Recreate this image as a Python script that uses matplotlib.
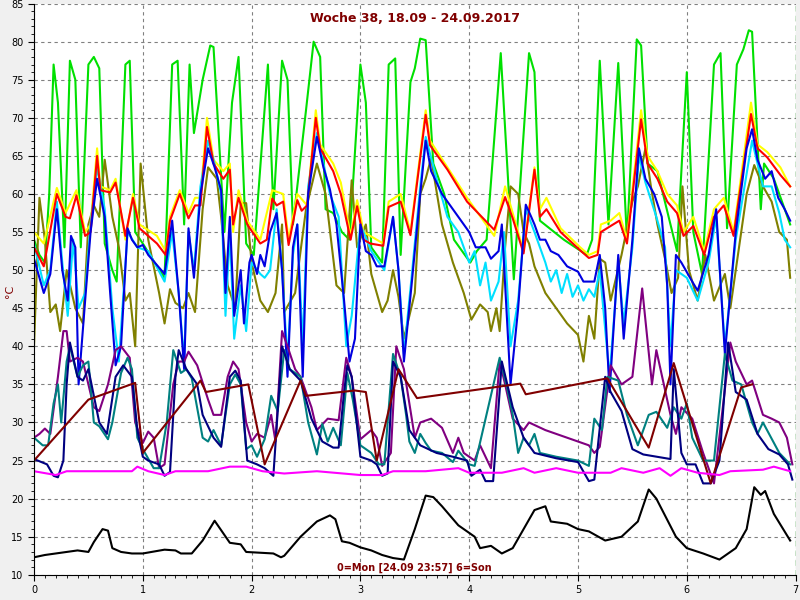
import matplotlib
matplotlib.use("Agg")
import matplotlib.pyplot as plt
from matplotlib.ticker import MultipleLocator

# ---- data (day of week, deg C) ----
green_x = [0, 0.05, 0.1, 0.14, 0.18, 0.22, 0.28, 0.33, 0.38, 0.43, 0.5, 0.55, 0.6, 0.65, 0.72, 0.76,
           0.84, 0.88, 0.93, 1.0, 1.13, 1.2, 1.27, 1.32, 1.38, 1.43, 1.47, 1.55, 1.62, 1.65, 1.75, 1.82,
           1.88, 1.95, 2.02, 2.15, 2.2, 2.28, 2.33, 2.38, 2.5, 2.57, 2.63, 2.68, 2.75, 2.83, 2.9, 3.0,
           3.05, 3.1, 3.2, 3.26, 3.32, 3.37, 3.46, 3.5, 3.55, 3.6, 3.67, 3.77, 3.86, 4.01, 4.07, 4.16,
           4.29, 4.41, 4.55, 4.6, 4.65, 4.87, 5.08, 5.13, 5.2, 5.28, 5.37, 5.45, 5.54, 5.58, 5.64, 5.73,
           5.91, 6.0, 6.06, 6.14, 6.25, 6.31, 6.37, 6.46, 6.52, 6.57, 6.6, 6.68, 6.71, 6.8, 6.95]
green_y = [54, 52, 51, 60, 77, 72, 53, 77.5, 75, 53, 77, 78, 76.5, 53.5, 50, 48.5,
           77, 77.5, 55, 53.5, 50.5, 49, 77, 77.5, 56, 77, 68, 75, 79.5, 79.3, 55, 72,
           78, 53.5, 52, 77, 58, 77.5, 75, 56, 71, 80, 78, 58, 57.5, 55, 54, 77,
           72, 53, 51, 77, 77.8, 52, 74.7, 76.5, 80.4, 80.2, 64, 60, 54, 51, 52.5, 54,
           78.5, 48.8, 78.5, 76, 56.5, 54, 52, 54, 77.5, 56, 77.2, 54, 80.3, 79.5, 64, 63,
           52.5, 76, 55, 49.5, 77, 78.5, 55.5, 77, 79, 81.5, 81.3, 58, 64, 62, 56]

yellow_x = [0, 0.09, 0.21, 0.29, 0.39, 0.47, 0.52, 0.58, 0.61, 0.7, 0.75, 0.84, 0.91, 0.97, 1.13,
            1.21, 1.25, 1.34, 1.42, 1.48, 1.53, 1.59, 1.65, 1.74, 1.8, 1.83, 1.88, 1.96, 2.08, 2.19,
            2.29, 2.34, 2.42, 2.51, 2.59, 2.63, 2.75, 2.82, 2.91, 2.97, 3.03, 3.09, 3.21, 3.26, 3.37,
            3.46, 3.6, 3.64, 3.8, 3.98, 4.23, 4.33, 4.4, 4.5, 4.6, 4.65, 4.71, 4.84, 5.02, 5.1, 5.18,
            5.21, 5.3, 5.38, 5.45, 5.58, 5.64, 5.73, 5.82, 5.91, 5.97, 6.06, 6.16, 6.25, 6.34, 6.43,
            6.59, 6.65, 6.74, 6.86, 6.95]
yellow_y = [55, 53.5, 60.8, 57.5, 60.5, 55, 56, 66, 61, 60.5, 62, 54, 60, 56, 54.5,
            52.5, 57, 60.5, 57.5, 59.5, 59.5, 70, 64.5, 63, 64, 55, 60.5, 56.5, 54, 60.5,
            60, 54, 60, 58.5, 71, 66.5, 64, 61.5, 54.5, 59.2, 55, 54.5, 53.5, 59, 60,
            55, 71, 67, 63.5, 59.5, 54.5, 61, 57.5, 52.5, 63.5, 58, 59.5, 55.5, 53, 52, 52.5,
            56, 56.5, 57.5, 54, 71, 65, 63, 60, 58.5, 55, 57, 52.5, 58, 59.5, 55,
            72, 66.5, 65.5, 63.5, 61]

red_x = [0, 0.09, 0.21, 0.29, 0.33, 0.39, 0.47, 0.52, 0.58, 0.61, 0.7, 0.75, 0.84, 0.91, 0.97,
         1.13, 1.21, 1.25, 1.34, 1.42, 1.48, 1.53, 1.59, 1.65, 1.74, 1.8, 1.83, 1.88, 1.96, 2.08,
         2.14, 2.19, 2.23, 2.29, 2.34, 2.42, 2.46, 2.51, 2.59, 2.63, 2.75, 2.82, 2.91, 2.97, 3.03,
         3.09, 3.21, 3.26, 3.37, 3.46, 3.6, 3.64, 3.8, 3.98, 4.23, 4.33, 4.4, 4.5, 4.6, 4.65, 4.71,
         4.84, 5.02, 5.1, 5.18, 5.21, 5.3, 5.38, 5.45, 5.58, 5.64, 5.73, 5.82, 5.91, 5.97, 6.06,
         6.16, 6.25, 6.34, 6.43, 6.59, 6.65, 6.74, 6.86, 6.95]
red_y = [53, 50.5, 60, 57, 56.8, 59.8, 54.5, 55, 65, 60.5, 60.2, 61.5, 54.5, 59.5, 55.5,
         53.5, 52, 56.5, 60, 56.8, 58.5, 58.5, 68.8, 64, 62, 63.2, 56, 59.5, 56, 53.5,
         54, 59.4, 58.5, 59, 53.3, 59.2, 57.8, 58.5, 70, 66, 63, 60, 54, 58.4, 54,
         53.5, 53.2, 58.3, 59, 54.6, 70.4, 66.4, 63.2, 59, 55.3, 59.6, 56.8, 52.2, 63.2, 57, 58,
         55, 52.6, 51.6, 52, 55, 55.8, 56.5, 53.5, 69.8, 64, 62, 59, 57.5, 54.5, 55.8,
         52, 57, 58.5, 54.5, 70.5, 66, 64.8, 62.5, 61]

blue_x = [0, 0.09, 0.15, 0.21, 0.26, 0.31, 0.34, 0.38, 0.41, 0.47, 0.52, 0.58, 0.65, 0.7, 0.75,
          0.8, 0.86, 0.9, 0.95, 1.0, 1.05, 1.2, 1.27, 1.33, 1.38, 1.42, 1.47, 1.53, 1.6, 1.66, 1.72,
          1.76, 1.8, 1.84, 1.9, 1.93, 1.98, 2.0, 2.05, 2.08, 2.12, 2.17, 2.23, 2.28, 2.33, 2.38,
          2.42, 2.47, 2.52, 2.6, 2.66, 2.72, 2.78, 2.85, 2.9, 2.95, 3.0, 3.05, 3.1, 3.15, 3.22,
          3.3, 3.35, 3.4, 3.47, 3.55, 3.6, 3.65, 3.75, 3.85, 3.95, 4.0, 4.06, 4.15, 4.2, 4.27,
          4.3, 4.38, 4.45, 4.52, 4.57, 4.6, 4.65, 4.7, 4.75, 4.82, 4.9, 5.0, 5.05, 5.15, 5.2,
          5.25, 5.29, 5.37, 5.42, 5.5, 5.56, 5.62, 5.7, 5.77, 5.82, 5.85, 5.9, 5.95, 6.05, 6.1,
          6.2, 6.27, 6.35, 6.45, 6.55, 6.6, 6.65, 6.72, 6.78, 6.84, 6.9, 6.95]
blue_y = [51.5, 47, 49.5, 58, 50, 46, 54.5, 53, 35, 46, 55, 62, 57, 47, 37.5,
          40, 55.5, 54, 53, 53.3, 52, 49.5, 56.5, 47, 37, 55.5, 49, 60, 66, 63.5, 60.5,
          47, 57, 44, 50, 43, 51, 52, 49.5, 52, 50.5, 55, 57.5, 50, 36, 53,
          56, 36, 60, 67.5, 63.5, 60.6, 56, 46, 38, 41, 56, 52.5, 52, 50.5, 50.5,
          57, 50, 38, 48, 60, 67, 63, 60, 58, 56, 55, 53, 53, 51.5, 52.5,
          56, 35, 45, 58.6, 57, 56, 54, 54, 52.5, 52, 50.5, 49.8, 48.5, 48.5, 52,
          45, 34, 52, 41, 54, 66, 62, 60, 57, 48, 35, 52, 51, 48.5, 47.3,
          52, 58, 39, 55, 66, 68.5, 64.5, 62, 63, 59.5, 58, 56.5]

cyan_x = [0, 0.09, 0.15, 0.21, 0.26, 0.31, 0.36, 0.41, 0.47, 0.52, 0.58, 0.65, 0.72, 0.78,
          0.86, 0.95, 1.05, 1.2, 1.27, 1.33, 1.38, 1.42, 1.47, 1.53, 1.6, 1.66, 1.72, 1.76, 1.8,
          1.84, 1.9, 1.95, 2.0, 2.08, 2.12, 2.17, 2.23, 2.28, 2.33, 2.38, 2.42, 2.47, 2.52, 2.6,
          2.66, 2.72, 2.8, 2.87, 2.92, 3.0, 3.1, 3.22, 3.3, 3.35, 3.4, 3.47, 3.55, 3.6, 3.7, 3.8,
          3.9, 4.0, 4.05, 4.1, 4.15, 4.2, 4.27, 4.32, 4.38, 4.45, 4.52, 4.6, 4.7, 4.75, 4.8,
          4.85, 4.9, 4.95, 5.0, 5.05, 5.1, 5.15, 5.2, 5.29, 5.37, 5.42, 5.5, 5.56, 5.62, 5.72,
          5.8, 5.85, 5.9, 6.0, 6.1, 6.2, 6.27, 6.35, 6.45, 6.6, 6.7, 6.78, 6.85, 6.9, 6.95]
cyan_y = [53.5, 48, 50, 59, 51, 44, 54, 45, 47, 56, 63.5, 58, 45, 38,
          55, 53, 52.5, 48.5, 55, 47, 38, 55, 50, 61, 67, 64, 60, 44, 55,
          41, 48, 42, 51, 49.5, 49, 50, 58, 50, 38, 52, 56, 40, 61, 68, 64,
          60, 57, 40, 44, 56, 52.5, 50, 57, 50, 39, 49, 61, 67.5, 62, 57,
          55, 51, 52.5, 48, 51, 46, 48.5, 55, 40, 46, 58, 55, 51, 48.5, 50,
          47, 49.5, 46.5, 48, 46, 47.5, 46.5, 50, 36, 51, 43, 53, 65, 61.5, 57,
          53, 40, 50, 49, 46, 51, 57, 40, 54, 67, 61, 61, 57.5, 54, 53]

olive_x = [0, 0.05, 0.1, 0.15, 0.2, 0.24, 0.3, 0.38, 0.45, 0.5, 0.55, 0.6, 0.65, 0.72, 0.78,
           0.84, 0.88, 0.93, 0.98, 1.05, 1.15, 1.2, 1.25, 1.3, 1.37, 1.42, 1.48, 1.55, 1.6, 1.68,
           1.72, 1.78, 1.85, 1.9, 1.95, 2.0, 2.08, 2.15, 2.22, 2.28, 2.3, 2.4, 2.5, 2.6, 2.68, 2.78,
           2.85, 2.92, 2.97, 3.05, 3.1, 3.2, 3.25, 3.3, 3.35, 3.4, 3.5, 3.55, 3.6, 3.65, 3.75, 3.85,
           3.95, 4.02, 4.1, 4.17, 4.2, 4.25, 4.28, 4.33, 4.38, 4.45, 4.5, 4.55, 4.6, 4.7, 4.8, 4.9,
           5.0, 5.05, 5.1, 5.15, 5.2, 5.25, 5.3, 5.4, 5.5, 5.55, 5.62, 5.67, 5.73, 5.8, 5.86, 5.92,
           5.96, 6.02, 6.1, 6.17, 6.25, 6.35, 6.4, 6.5, 6.55, 6.62, 6.7, 6.78, 6.85, 6.92, 6.95]
olive_y = [40, 59.5, 54, 44.5, 45.5, 42, 50, 45, 43, 56, 58.5, 57, 64.5, 57, 53,
           46, 47, 40, 64, 54, 47, 43, 47.5, 45.7, 45, 47, 44.5, 58, 63.5, 62,
           57, 48, 45, 58.8, 58.8, 51, 46, 44.5, 47, 56, 44.5, 47, 58, 64, 60, 48,
           47, 61.8, 53, 56, 49.5, 44.5, 46, 50, 46.5, 41, 47, 60, 62, 64.7, 56, 51,
           47, 43.5, 45.5, 44.5, 42, 45, 42, 53, 61, 60, 55, 53.5, 50.5, 47, 45, 43,
           41.5, 38, 44, 41, 51.5, 51, 46, 52, 59, 61, 66, 61, 56, 51.5, 47, 49,
           61, 50, 46, 52, 46, 49.5, 45, 55, 60, 63.8, 61, 59, 55, 54, 49]

purple_x = [0, 0.05, 0.1, 0.15, 0.22, 0.27, 0.3, 0.33, 0.4, 0.45, 0.55, 0.6, 0.68, 0.75, 0.8,
            0.88, 0.93, 1.0, 1.05, 1.1, 1.15, 1.2, 1.28, 1.33, 1.38, 1.42, 1.5, 1.6, 1.65, 1.72,
            1.78, 1.83, 1.88, 1.95, 2.0, 2.05, 2.12, 2.18, 2.22, 2.28, 2.33, 2.4, 2.45, 2.55, 2.6,
            2.7, 2.8, 2.87, 2.92, 3.0, 3.1, 3.15, 3.2, 3.28, 3.33, 3.4, 3.5, 3.55, 3.65, 3.75, 3.85,
            3.9, 3.95, 4.05, 4.1, 4.2, 4.28, 4.33, 4.4, 4.5, 4.55, 4.7, 4.8, 5.0, 5.1, 5.15, 5.2,
            5.3, 5.4, 5.5, 5.59, 5.68, 5.72, 5.85, 5.9, 5.95, 6.05, 6.15, 6.25, 6.4, 6.45, 6.55,
            6.6, 6.7, 6.78, 6.85, 6.92, 6.97]
purple_y = [28, 28.5, 29.2, 28.5, 36, 42, 42, 38, 38.5, 38, 32, 31.5, 35, 39.5, 40,
            38.5, 30, 27.3, 28.8, 28, 24, 24.5, 35, 38, 38, 39.3, 37.5, 33, 31, 31,
            36, 38, 37, 30, 27.5, 28.5, 28, 31, 27.5, 42, 40, 37, 36, 32, 29,
            30.5, 30.3, 38.5, 36, 27.8, 29, 28, 24.3, 26, 40, 37, 28, 30, 30.5, 29.3, 26,
            28, 26, 25, 27, 24, 38, 35, 30.5, 29, 30, 29, 28.5, 27.5, 27, 26, 26.8,
            37.5, 35, 36, 47.6, 35, 39.5, 31, 28.5, 32, 30.5, 26, 22, 40.5, 38, 35,
            35.5, 31, 30.5, 30, 28, 24.5]

teal_x = [0, 0.08, 0.13, 0.18, 0.22, 0.25, 0.3, 0.33, 0.4, 0.45, 0.5, 0.55, 0.6, 0.68, 0.72,
          0.8, 0.86, 0.9, 0.95, 1.0, 1.1, 1.15, 1.22, 1.28, 1.35, 1.4, 1.45, 1.55, 1.6, 1.65,
          1.72, 1.8, 1.85, 1.9, 1.95, 2.0, 2.05, 2.12, 2.18, 2.24, 2.3, 2.35, 2.45, 2.52, 2.6,
          2.65, 2.7, 2.75, 2.82, 2.88, 2.93, 3.0, 3.1, 3.17, 3.22, 3.3, 3.37, 3.42, 3.45, 3.5,
          3.55, 3.6, 3.65, 3.75, 3.85, 3.9, 4.0, 4.05, 4.28, 4.35, 4.4, 4.45, 4.5, 4.55, 4.6,
          4.65, 4.8, 5.0, 5.1, 5.15, 5.22, 5.27, 5.37, 5.45, 5.55, 5.65, 5.72, 5.82, 5.88, 5.95,
          6.0, 6.05, 6.15, 6.25, 6.35, 6.42, 6.5, 6.6, 6.65, 6.7, 6.85, 6.95]
teal_y = [28, 27, 27, 32.5, 35, 30, 38, 40, 36, 37.5, 38, 30, 29.5, 27.8, 30,
          36.5, 38.5, 37, 28, 26.5, 24, 24, 30, 39.5, 36.5, 37, 35.8, 28, 27.5, 29,
          27, 35, 36.3, 35, 26.5, 27, 25.5, 27.8, 33.5, 31.5, 39.5, 37, 36, 30, 25.8,
          29.8, 27.5, 29.3, 27, 36.5, 33, 27, 26, 24.5, 24.5, 39, 36, 31, 27.5, 26,
          28.5, 27.3, 26.3, 26, 24.8, 26.3, 24.5, 24.3, 38.5, 34.5, 31, 26, 28, 27, 28.5,
          26, 25.5, 25, 24.3, 30.5, 29, 36, 35.5, 31, 27, 31, 31.4, 29.3, 32, 30.5,
          32.5, 28, 25, 25, 39, 35.5, 35, 30, 28.5, 30, 26, 24.5]

navy_x = [0, 0.12, 0.18, 0.22, 0.27, 0.3, 0.33, 0.4, 0.45, 0.5, 0.6, 0.67, 0.75, 0.82, 0.9,
          0.95, 1.0, 1.05, 1.15, 1.2, 1.25, 1.3, 1.33, 1.4, 1.5, 1.55, 1.65, 1.72, 1.8, 1.85,
          1.9, 1.96, 2.05, 2.12, 2.2, 2.28, 2.35, 2.45, 2.55, 2.65, 2.75, 2.8, 2.85, 2.88, 2.92,
          3.0, 3.1, 3.15, 3.2, 3.25, 3.3, 3.37, 3.45, 3.55, 3.7, 3.85, 3.98, 4.02, 4.1, 4.15,
          4.22, 4.3, 4.4, 4.5, 4.6, 4.8, 5.0, 5.1, 5.15, 5.25, 5.3, 5.4, 5.5, 5.6, 5.85, 5.88,
          5.95, 6.0, 6.08, 6.15, 6.22, 6.3, 6.38, 6.45, 6.55, 6.65, 6.75, 6.85, 6.93, 6.97]
navy_y = [25.2, 24.5, 23, 22.8, 25, 35, 40.5, 36, 35.5, 37, 30, 28.5, 36, 37.5, 36,
          29, 25.5, 25, 24.5, 23, 23.5, 36, 39.5, 37, 35, 31, 28, 26.8, 36, 36.8,
          35.5, 25, 24.5, 24, 23, 40, 37, 35.5, 30.5, 27.5, 26.7, 26.7, 34, 37.5, 36,
          25.5, 25, 24.5, 23, 23.3, 38, 36, 29, 27, 26, 25.5, 25, 23, 23.8, 22.3,
          22.3, 38, 32, 28, 26, 25.3, 24.8, 22.3, 22.5, 36, 34, 31.5, 26.5, 25.8, 25.2, 37,
          26, 24.5, 24.5, 22, 22, 25, 40.5, 34, 33, 28.5, 26.5, 25.8, 24.5, 22.5]

maroon_x = [0, 0.5, 0.93, 1.0, 1.53, 1.58, 1.97, 2.12, 2.45, 2.5, 2.95, 3.05, 3.15, 3.35, 3.52,
            4.47, 4.52, 5.27, 5.65, 5.88, 6.22, 6.5, 6.6]
maroon_y = [25, 33, 35.2, 26, 35.5, 34, 35, 24.5, 35.5, 33.5, 34.2, 34, 25, 37, 33.2,
            35.1, 33.7, 35.8, 26.7, 37.8, 22, 34.6, 35]

magenta_x = [0, 0.2, 0.3, 0.9, 0.95, 1.05, 1.2, 1.3, 1.6, 1.8, 1.95, 2.1, 2.3, 2.6, 3.0, 3.2,
             3.3, 3.6, 3.9, 4.0, 4.3, 4.5, 4.6, 4.8, 5.0, 5.3, 5.4, 5.6, 5.75, 5.85, 5.95, 6.1,
             6.3, 6.4, 6.7, 6.8, 6.95]
magenta_y = [23.6, 23.1, 23.6, 23.6, 24.2, 23.6, 23.1, 23.6, 23.6, 24.2, 24.2, 23.6, 23.3, 23.6,
             23.1, 23.1, 23.6, 23.6, 24.0, 23.4, 23.4, 24.0, 23.4, 24.0, 23.4, 23.4, 24.0, 23.4,
             24.0, 23.0, 24.0, 23.4, 23.1, 23.6, 23.8, 24.2, 23.6]

black_x = [0, 0.1, 0.2, 0.4, 0.5, 0.55, 0.63, 0.68, 0.72, 0.8, 0.9, 1.0, 1.2, 1.3, 1.35, 1.45,
           1.55, 1.66, 1.8, 1.9, 1.95, 2.2, 2.27, 2.3, 2.45, 2.6, 2.72, 2.77, 2.83, 2.9, 3.0,
           3.1, 3.2, 3.3, 3.4, 3.5, 3.6, 3.67, 3.75, 3.9, 4.05, 4.1, 4.2, 4.3, 4.4, 4.6, 4.7,
           4.75, 4.9, 5.0, 5.1, 5.25, 5.4, 5.55, 5.65, 5.72, 5.9, 6.0, 6.15, 6.3, 6.45, 6.55,
           6.62, 6.68, 6.72, 6.8, 6.95]
black_y = [12.3, 12.6, 12.8, 13.2, 13, 14.3, 16, 15.8, 13.5, 13, 12.8, 12.8, 13.3, 13.2, 12.8,
           12.8, 14.5, 17.1, 14.2, 14, 13, 12.8, 12.3, 12.5, 15, 17, 17.8, 17.3, 14.4, 14.2, 13.6,
           13.2, 12.6, 12.2, 12.0, 16, 20.4, 20.2, 19, 16.5, 15, 13.5, 13.8, 12.8, 13.5, 18.5, 19,
           17, 16.7, 16, 15.7, 14.5, 15, 17, 21.2, 20, 15, 13.5, 12.8, 12, 13.5, 16,
           21.5, 20.5, 21, 18, 14.5]

title = "Woche 38, 18.09 - 24.09.2017"
footer = "0=Mon [24.09 23:57] 6=Son"
text_color = "#800000"

fig = plt.figure(figsize=(8, 6), dpi=100, facecolor="#f0f0f0")
ax = fig.add_axes([0.0425, 0.042, 0.952, 0.952])
ax.set_facecolor("white")

series = [
    (green_x, green_y, "#00e000"),
    (olive_x, olive_y, "#808000"),
    (yellow_x, yellow_y, "#ffff00"),
    (cyan_x, cyan_y, "#00e0ff"),
    (red_x, red_y, "#ff0000"),
    (blue_x, blue_y, "#0000e0"),
    (purple_x, purple_y, "#800080"),
    (teal_x, teal_y, "#008080"),
    (navy_x, navy_y, "#000080"),
    (maroon_x, maroon_y, "#800000"),
    (magenta_x, magenta_y, "#ff00ff"),
    (black_x, black_y, "#000000"),
]
for xs, ys, c in series:
    ax.plot(xs, ys, color=c, lw=1.5)

ax.set_xlim(0, 7)
ax.set_ylim(10, 85)
ax.xaxis.set_major_locator(MultipleLocator(1))
ax.xaxis.set_minor_locator(MultipleLocator(0.1))
ax.yaxis.set_major_locator(MultipleLocator(5))
ax.yaxis.set_minor_locator(MultipleLocator(1))
ax.grid(True, which="major", ls=(0, (3, 3)), color="#808080", lw=0.8)
ax.axvline(7, color="#008000", ls=(0, (4, 3)), lw=1)
ax.tick_params(labelsize=7, length=4, direction="out")
ax.tick_params(which="minor", length=2)
for s in ["top", "right"]:
    ax.spines[s].set_visible(False)

ax.text(0.5, 0.985, title, transform=ax.transAxes, ha="center", va="top",
        color=text_color, fontsize=9, fontweight="bold")
ax.text(0.5, 0.004, footer, transform=ax.transAxes, ha="center", va="bottom",
        color=text_color, fontsize=7, fontweight="bold")
fig.text(0.012, 0.515, "°C", rotation=90, color=text_color, fontsize=8,
         ha="center", va="center")

fig.savefig("out.png", dpi=100, facecolor=fig.get_facecolor())
